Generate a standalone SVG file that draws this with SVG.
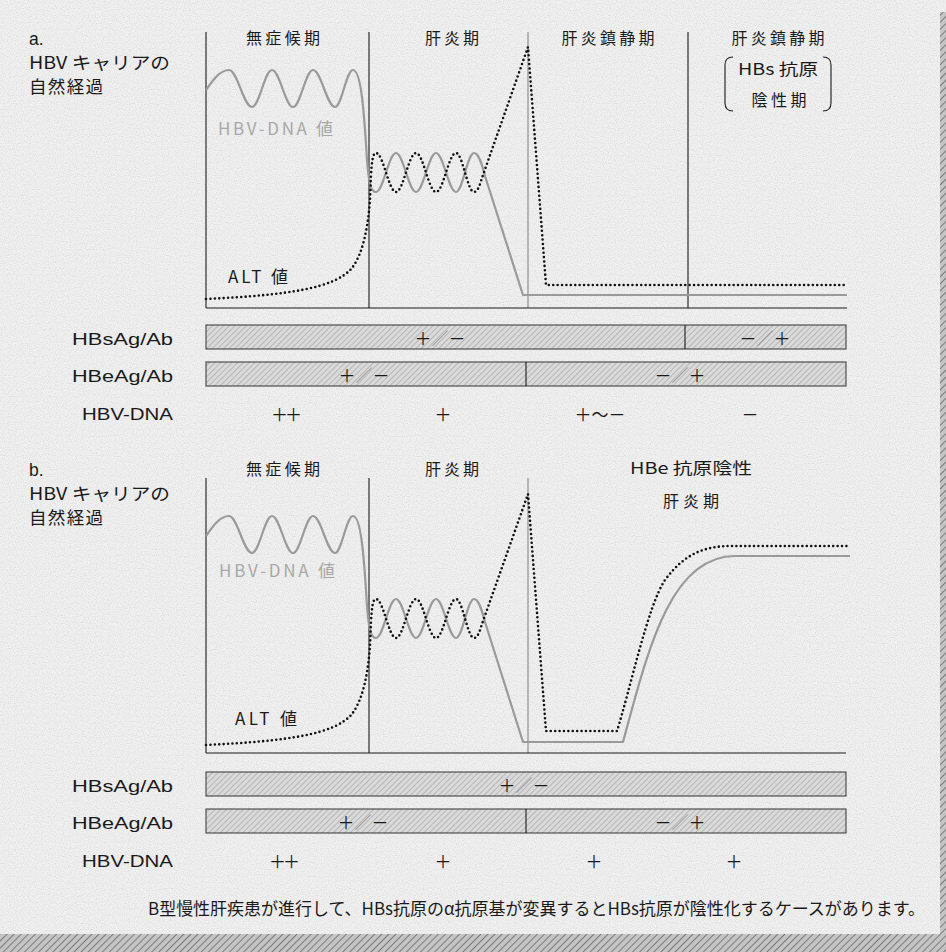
<svg xmlns="http://www.w3.org/2000/svg" width="946" height="952" viewBox="0 0 946 952">
<style>
.jp{font-family:"Noto Sans CJK JP","Noto Sans",sans-serif;fill:#1a1a1a}
.lat{font-family:"Liberation Sans","Noto Sans",sans-serif;fill:#1a1a1a}
.mid{text-anchor:middle}
.end{text-anchor:end}
.hdr{font-size:16px}
.ttl{font-size:17.5px}
.lbl{font-size:17px}
.val{font-size:17px}
.sym{font-family:"Noto Sans CJK JP",sans-serif;font-size:17px;fill:#1a1a1a;text-anchor:middle}
.axis{stroke:#1a1a1a;stroke-width:1.1;fill:none}
.gaxis{stroke:#888;stroke-width:1.1;fill:none}
.dna{stroke:#9a9a9a;stroke-width:2.2;fill:none;stroke-linejoin:round}
.alt{stroke:#111;stroke-width:2.6;fill:none;stroke-dasharray:0 4.4;stroke-linecap:round;stroke-linejoin:round}
.bar{fill:url(#hatch);stroke:#333;stroke-width:1}
.sl{fill:#8a8a8a}
</style>
<defs>
<pattern id="hatch" width="4" height="4" patternUnits="userSpaceOnUse" patternTransform="rotate(45)">
<rect width="4" height="4" fill="#dadada"/>
<line x1="0" y1="0" x2="0" y2="4" stroke="#adadad" stroke-width="1.6"/>
</pattern>
<pattern id="shadow" width="5" height="5" patternUnits="userSpaceOnUse" patternTransform="rotate(45)">
<rect width="5" height="5" fill="#c4c4c4"/>
<line x1="0" y1="0" x2="0" y2="5" stroke="#7a7a7a" stroke-width="2"/>
</pattern>
<filter id="speck" x="0" y="0" width="946" height="952" filterUnits="userSpaceOnUse">
<feTurbulence type="fractalNoise" baseFrequency="0.85" numOctaves="1" seed="7" result="n"/>
<feColorMatrix in="n" type="matrix" values="0 0 0 0 0.45  0 0 0 0 0.45  0 0 0 0 0.45  -2.4 0 0 0 1.35"/>
</filter>
</defs>

<g id="background">
<rect x="0" y="0" width="946" height="952" fill="#f0f0f0"/>
<rect x="0" y="0" width="946" height="952" filter="url(#speck)" opacity="0.35"/>
<rect x="940" y="12" width="6" height="940" fill="url(#shadow)"/>
<rect x="0" y="934" width="946" height="18" fill="url(#shadow)"/>
</g>

<g id="panel-a">
<g id="a-title">
<text class="lat ttl" x="29" y="45">a.</text>
<text class="jp ttl" x="29" y="69" textLength="141" lengthAdjust="spacingAndGlyphs">HBV キャリアの</text>
<text class="jp ttl" x="29" y="93" textLength="74">自然経過</text>
</g>
<g id="a-headers">
<text class="jp hdr mid" x="283" y="44" textLength="74">無症候期</text>
<text class="jp hdr mid" x="452" y="44" textLength="54">肝炎期</text>
<text class="jp hdr mid" x="608" y="44" textLength="93">肝炎鎮静期</text>
<text class="jp hdr mid" x="778" y="44" textLength="93">肝炎鎮静期</text>
<text class="jp hdr mid" x="778" y="75" textLength="80" lengthAdjust="spacingAndGlyphs">HBs 抗原</text>
<text class="jp hdr mid" x="779" y="106" textLength="55">陰性期</text>
<path class="axis" d="M733,57 Q725,57 725,65 L725,103 Q725,111 733,111"/>
<path class="axis" d="M823,57 Q831,57 831,65 L831,103 Q831,111 823,111"/>
</g>
<g id="a-axes">
<line class="axis" x1="206" y1="32" x2="206" y2="308"/>
<line class="axis" x1="369" y1="32" x2="369" y2="308"/>
<line class="gaxis" x1="528" y1="32" x2="528" y2="308"/>
<line class="axis" x1="688" y1="32" x2="688" y2="308"/>
<line class="axis" x1="206" y1="308" x2="847" y2="308"/>
</g>
<g id="a-curves">
<path class="dna" d="M206,90 C213,80 220,70 229,70 C237.4,70 243.6,107 252,107 C259.3,107 264.7,70 272,70 C279.6,70 285.4,107 293,107 C300.3,107 305.7,70 313,70 C321,70 327,107 335,107 C341.6,107 346.4,70 353,70 C361,70 364,110 367,160 C369,185 371,192 376,192 C383.3,192 388.7,153 396,153 C403.3,153 408.7,192 416,192 C423.3,192 428.7,153 436,153 C443.3,153 448.7,192 456,192 C462.6,192 467.4,153 474,153 C479,153 482,165 485,176 L523,295 L847,295"/>
<path class="alt" d="M206,299 C290,295 335,288 352,268 C364,252 368,225 370,200 L371,175 C372,160 373,153 376,153 C383.3,153 388.7,192 396,192 C403.3,192 408.7,153 416,153 C423.3,153 428.7,192 436,192 C443.3,192 448.7,153 456,153 C462.6,153 467.4,192 474,192 C478,192 480,184 482,178 L528,47 L546,285 L847,285"/>
<text class="jp val" x="218" y="135" style="fill:#a8a8a8" textLength="115">HBV-DNA 値</text>
<text class="jp val" x="228" y="283" textLength="60">ALT 値</text>
</g>
<g id="a-table">
<text class="lat lbl end" x="173" y="345" textLength="101" lengthAdjust="spacingAndGlyphs">HBsAg/Ab</text>
<rect class="bar" x="206" y="325" width="640" height="24"/>
<line class="axis" x1="685" y1="325" x2="685" y2="349"/>
<text class="sym" x="440" y="345" fill="#1a1a1a">＋<tspan class="sl">／</tspan>－</text>
<text class="sym" x="765" y="345" fill="#1a1a1a">－<tspan class="sl">／</tspan>＋</text>

<text class="lat lbl end" x="173" y="382" textLength="101" lengthAdjust="spacingAndGlyphs">HBeAg/Ab</text>
<rect class="bar" x="206" y="362" width="640" height="24"/>
<line class="axis" x1="526" y1="362" x2="526" y2="386"/>
<text class="sym" x="364" y="382" fill="#1a1a1a">＋<tspan class="sl">／</tspan>－</text>
<text class="sym" x="680" y="382" fill="#1a1a1a">－<tspan class="sl">／</tspan>＋</text>

<text class="lat lbl end" x="173" y="420" textLength="91" lengthAdjust="spacingAndGlyphs">HBV-DNA</text>
<text class="sym" x="285" y="421" letter-spacing="-3">＋＋</text>
<text class="sym" x="443" y="421">＋</text>
<text class="sym" x="600" y="421">＋～－</text>
<text class="sym" x="750" y="421">－</text>
</g>
</g>

<g id="panel-b">
<g id="b-title">
<text class="lat ttl" x="29" y="476">b.</text>
<text class="jp ttl" x="29" y="500" textLength="141" lengthAdjust="spacingAndGlyphs">HBV キャリアの</text>
<text class="jp ttl" x="29" y="524" textLength="74">自然経過</text>
</g>
<g id="b-headers">
<text class="jp hdr mid" x="283" y="475" textLength="74">無症候期</text>
<text class="jp hdr mid" x="452" y="475" textLength="54">肝炎期</text>
<text class="jp hdr mid" x="691" y="474" textLength="122" lengthAdjust="spacingAndGlyphs">HBe 抗原陰性</text>
<text class="jp hdr mid" x="691" y="507" textLength="56">肝炎期</text>
</g>
<g id="b-axes">
<line class="axis" x1="206" y1="478" x2="206" y2="753"/>
<line class="axis" x1="369" y1="478" x2="369" y2="753"/>
<line class="gaxis" x1="528" y1="478" x2="528" y2="753"/>
<line class="axis" x1="206" y1="753" x2="846" y2="753"/>
</g>
<g id="b-curves">
<path class="dna" d="M206,536 C213,526 220,516 229,516 C237.4,516 243.6,553 252,553 C259.3,553 264.7,516 272,516 C279.6,516 285.4,553 293,553 C300.3,553 305.7,516 313,516 C321,516 327,553 335,553 C341.6,553 346.4,516 353,516 C361,516 364,556 367,606 C369,631 371,638 376,638 C383.3,638 388.7,599 396,599 C403.3,599 408.7,638 416,638 C423.3,638 428.7,599 436,599 C443.3,599 448.7,638 456,638 C462.6,638 467.4,599 474,599 C479,599 482,611 485,622 L523,742 L623,742 C648,650 670,556 735,556 L850,556"/>
<path class="alt" d="M206,745 C290,741 335,734 352,714 C364,698 368,671 370,646 L371,621 C372,606 373,599 376,599 C383.3,599 388.7,638 396,638 C403.3,638 408.7,599 416,599 C423.3,599 428.7,638 436,638 C443.3,638 448.7,599 456,599 C462.6,599 467.4,638 474,638 C478,638 480,630 482,624 L528,494 L546,731 L617,731 C630,690 648,605 665,580 C685,553 705,546 732,546 L847,546"/>
<text class="jp val" x="219" y="577" style="fill:#a8a8a8" textLength="116">HBV-DNA 値</text>
<text class="jp val" x="235" y="725" textLength="62">ALT 値</text>
</g>
<g id="b-table">
<text class="lat lbl end" x="173" y="792" textLength="101" lengthAdjust="spacingAndGlyphs">HBsAg/Ab</text>
<rect class="bar" x="206" y="772" width="640" height="24"/>
<text class="sym" x="524" y="792">＋<tspan class="sl">／</tspan>－</text>

<text class="lat lbl end" x="173" y="829" textLength="101" lengthAdjust="spacingAndGlyphs">HBeAg/Ab</text>
<rect class="bar" x="206" y="809" width="640" height="24"/>
<line class="axis" x1="526" y1="809" x2="526" y2="833"/>
<text class="sym" x="363" y="829">＋<tspan class="sl">／</tspan>－</text>
<text class="sym" x="680" y="829">－<tspan class="sl">／</tspan>＋</text>

<text class="lat lbl end" x="173" y="867" textLength="91" lengthAdjust="spacingAndGlyphs">HBV-DNA</text>
<text class="sym" x="283" y="868" letter-spacing="-3">＋＋</text>
<text class="sym" x="443" y="868">＋</text>
<text class="sym" x="594" y="868">＋</text>
<text class="sym" x="734" y="868">＋</text>
</g>
</g>

<g id="footer">
<text class="jp" x="148" y="915" font-size="17" textLength="777">B型慢性肝疾患が進行して、HBs抗原のα抗原基が変異するとHBs抗原が陰性化するケースがあります。</text>
</g>
</svg>
